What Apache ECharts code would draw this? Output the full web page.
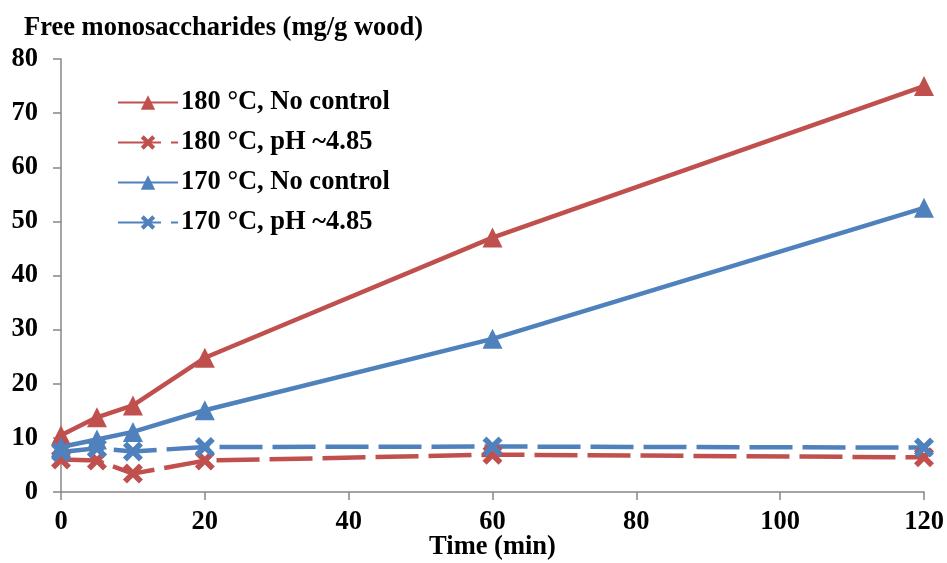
<!DOCTYPE html>
<html>
<head>
<meta charset="utf-8">
<script src="https://cdn.jsdelivr.net/npm/echarts@6/dist/echarts.min.js"></script>
<style>
    html, body {margin: 0; padding: 0; background: #fff;}
    #chart {width: 947px; height: 563px;}
</style>
</head>
<body>
<div id="chart"></div>
<script>
// 数据
var times = [0, 5, 10, 20, 60, 120];
var red180NoCtrl = [10.5, 13.8, 16.0, 24.8, 47.0, 75.0];
var red180PH = [6.0, 5.8, 3.4, 5.8, 6.9, 6.4];
var blue170NoCtrl = [8.3, 9.7, 11.1, 15.1, 28.3, 52.5];
var blue170PH = [7.4, 8.1, 7.5, 8.3, 8.4, 8.2];
var seriesNames = ['180 °C, No control', '180 °C, pH ~4.85', '170 °C, No control', '170 °C, pH ~4.85'];

var RED = '#C0504D';
var BLUE = '#4F81BD';
var FONT = '"Liberation Serif", "Times New Roman", serif';
var FSIZE = 26.5;
var crossPath = 'path://M2,0 L5,3 L8,0 L10,2 L7,5 L10,8 L8,10 L5,7 L2,10 L0,8 L3,5 L0,2 Z';

function pairs(xs, ys) {
    var out = [];
    for (var i = 0; i < xs.length; i++) {
        out.push([xs[i], ys[i]]);
    }
    return out;
}

function makeSeries(name, color, values, dashed) {
    return {
        name: name,
        type: 'line',
        symbol: dashed ? crossPath : 'triangle',
        symbolSize: 20,
        showSymbol: true,
        lineStyle: {
            color: color,
            width: 4.5,
            type: dashed ? [43, 10] : 'solid'
        },
        itemStyle: {color: color},
        emphasis: {disabled: true},
        data: pairs(times, values)
    };
}

var myChart = echarts.init(document.getElementById('chart'));
var option = {
    animation: false,
    title: {
        text: 'Free monosaccharides (mg/g wood)',
        left: 24,
        top: 15,
        padding: 0,
        textStyle: {fontFamily: FONT, fontWeight: 'bold', fontSize: FSIZE, color: '#000'}
    },
    legend: {
        orient: 'vertical',
        left: 117,
        top: 89,
        padding: 0,
        itemWidth: 60,
        itemHeight: 18,
        itemGap: 13,
        data: seriesNames,
        textStyle: {fontFamily: FONT, fontWeight: 'bold', fontSize: FSIZE, color: '#000', padding: [0, 0, 0, -2]}
    },
    grid: {
        left: 61,
        right: 23,
        top: 59,
        bottom: 71,
        outerBoundsMode: 'none'
    },
    xAxis: {
        type: 'value',
        min: 0,
        max: 120,
        interval: 20,
        name: 'Time (min)',
        nameLocation: 'middle',
        nameGap: 42,
        nameMoveOverlap: false,
        nameTextStyle: {fontFamily: FONT, fontWeight: 'bold', fontSize: FSIZE, color: '#000'},
        axisLine: {lineStyle: {color: '#878787', width: 1.5}},
        axisTick: {show: true, length: 8, lineStyle: {color: '#878787', width: 1.5}},
        axisLabel: {fontFamily: FONT, fontWeight: 'bold', fontSize: FSIZE, color: '#000', margin: 17},
        splitLine: {show: false}
    },
    yAxis: {
        type: 'value',
        min: 0,
        max: 80,
        interval: 10,
        axisLine: {show: true, lineStyle: {color: '#878787', width: 1.5}},
        axisTick: {show: true, length: 8, lineStyle: {color: '#878787', width: 1.5}},
        axisLabel: {fontFamily: FONT, fontWeight: 'bold', fontSize: FSIZE, color: '#000', margin: 23},
        splitLine: {show: false}
    },
    series: [
        makeSeries(seriesNames[0], RED, red180NoCtrl, false),
        makeSeries(seriesNames[1], RED, red180PH, true),
        makeSeries(seriesNames[2], BLUE, blue170NoCtrl, false),
        makeSeries(seriesNames[3], BLUE, blue170PH, true)
    ]
};
myChart.setOption(option);
window.addEventListener("resize", function () {
    myChart.resize();
});
</script>
</body>
</html>
